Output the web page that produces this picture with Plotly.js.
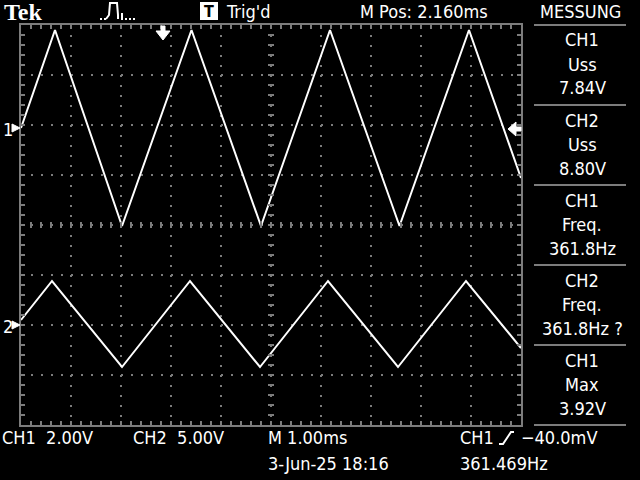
<!DOCTYPE html>
<html>
<head>
<meta charset="utf-8">
<script src="https://cdn.plot.ly/plotly-3.0.1.min.js"></script>
<style>html,body{margin:0;padding:0;background:#000;}#chart{width:640px;height:480px;}</style>
</head>
<body>
<div id="chart"></div>
<script>
// ---- data (time in ms, voltage in V) ----
const ch1Time = [0, 0.68, 2.02, 3.41, 4.80, 6.18, 7.57, 8.96, 10.0];
const ch1Volt = [0.0, 3.92, -3.92, 3.92, -3.92, 3.92, -3.92, 3.92, -2.0];
const ch2Time = [0, 0.62, 2.02, 3.38, 4.78, 6.14, 7.54, 8.90, 10.0];
const ch2Volt = [0.5, 4.4, -4.2, 4.4, -4.2, 4.4, -4.2, 4.4, -2.3];
const ch1VoltsPerDiv = 2.0;
const ch2VoltsPerDiv = 5.0;
const ch1GroundDiv = 1.94;
const ch2GroundDiv = -2.0;

const measChannel = ['CH1', 'CH2', 'CH1', 'CH2', 'CH1'];
const measType = ['Uss', 'Uss', 'Freq.', 'Freq.', 'Max'];
const measValue = ['7.84V', '8.80V', '361.8Hz', '361.8Hz ?', '3.92V'];

const headerBrand = 'Tek';
const headerTrig = "Trig'd";
const headerPos = 'M Pos: 2.160ms';
const headerMenu = 'MESSUNG';
const footerCh1 = 'CH1  2.00V';
const footerCh2 = 'CH2  5.00V';
const footerTime = 'M 1.00ms';
const footerDate = '3-Jun-25 18:16';
const footerTrigSrc = 'CH1';
const footerTrigLevel = '\u221240.0mV';
const footerFreq = '361.469Hz';

// ---- layout helpers ----
const L = 21, R = 521, T = 25, B = 425;
const fx = x => (x - L) / (R - L);
const fy = y => (B - y) / (B - T);
const GRAY = '#7c7c7c';
const FONT = 'DejaVu Sans Condensed, Liberation Sans Narrow, Arial Narrow, sans-serif';

function pxPath(pts, close) {
  let s = '';
  pts.forEach((p, i) => { s += (i === 0 ? 'M' : 'L') + fx(p[0]).toFixed(5) + ',' + fy(p[1]).toFixed(5) + ' '; });
  if (close) s += 'Z';
  return s;
}

const toDiv = (arr, vpd, off) => arr.map(v => v / vpd + off);

const traces = [
  {x: ch1Time, y: toDiv(ch1Volt, ch1VoltsPerDiv, ch1GroundDiv), mode: 'lines',
   line: {color: '#ffffff', width: 2}, hoverinfo: 'skip', cliponaxis: true},
  {x: ch2Time, y: toDiv(ch2Volt, ch2VoltsPerDiv, ch2GroundDiv), mode: 'lines',
   line: {color: '#ffffff', width: 2}, hoverinfo: 'skip', cliponaxis: true}
];

const shapes = [];
// center crosshair ticks
for (let i = 1; i < 50; i++) {
  const x = i * 0.2;
  shapes.push({type: 'line', xref: 'x', yref: 'y', x0: x, x1: x, y0: -0.06, y1: 0.06,
               line: {color: GRAY, width: 2}});
}
for (let i = 1; i < 40; i++) {
  const y = -4 + i * 0.2;
  shapes.push({type: 'line', xref: 'x', yref: 'y', x0: 4.94, x1: 5.06, y0: y, y1: y,
               line: {color: GRAY, width: 2}});
}
// right panel separators
[25, 105, 185, 265, 345, 425].forEach(y => {
  shapes.push({type: 'line', xref: 'paper', yref: 'paper', x0: fx(534), x1: fx(626), y0: fy(y), y1: fy(y),
               line: {color: GRAY, width: 2}});
});
// trigger position arrow (top)
shapes.push({type: 'path', xref: 'paper', yref: 'paper',
  path: pxPath([[161, 26], [165, 26], [165, 31], [170, 31], [163, 40], [156, 31], [161, 31]], true),
  fillcolor: '#ffffff', line: {color: '#ffffff', width: 1}});
// trigger level arrow (right)
shapes.push({type: 'path', xref: 'paper', yref: 'paper',
  path: pxPath([[508, 129], [516, 122], [516, 127], [521, 127], [521, 131], [516, 131], [516, 136]], true),
  fillcolor: '#ffffff', line: {color: '#ffffff', width: 1}});
// channel ground markers
[128, 325].forEach(y => {
  shapes.push({type: 'path', xref: 'paper', yref: 'paper',
    path: pxPath([[12, y - 4], [20, y], [12, y + 4]], true),
    fillcolor: '#ffffff', line: {color: '#ffffff', width: 1}});
});
// T box
shapes.push({type: 'rect', xref: 'paper', yref: 'paper', x0: fx(200), x1: fx(218), y0: fy(2), y1: fy(20),
             fillcolor: '#ffffff', line: {width: 0}});
// acquisition pulse icon
shapes.push({type: 'path', xref: 'paper', yref: 'paper',
  path: pxPath([[106, 19], [109, 15], [110, 3], [117, 3], [118, 15], [118, 19]], false),
  line: {color: '#ffffff', width: 2}});
shapes.push({type: 'path', xref: 'paper', yref: 'paper',
  path: pxPath([[100, 19], [106, 19]], false), line: {color: '#ffffff', width: 2, dash: '2px,2px'}});
shapes.push({type: 'path', xref: 'paper', yref: 'paper',
  path: pxPath([[121, 19], [136, 19]], false), line: {color: '#ffffff', width: 2, dash: '2px,2px'}});
shapes.push({type: 'path', xref: 'paper', yref: 'paper',
  path: pxPath([[122, 13], [122, 19]], false), line: {color: '#ffffff', width: 2}});
// trigger slope symbol
shapes.push({type: 'path', xref: 'paper', yref: 'paper',
  path: pxPath([[499, 444], [503, 444], [511, 432], [514, 432]], false),
  line: {color: '#ffffff', width: 2}});

const ann = [];
function txt(text, x, y, anchor, size, family, color) {
  ann.push({text: text, xref: 'paper', yref: 'paper', x: fx(x), y: fy(y), xanchor: anchor || 'left',
            yanchor: 'middle', showarrow: false, borderpad: 0,
            font: {family: family || FONT, size: size || 18, color: color || '#ffffff'}});
}
txt('<b>' + headerBrand + '</b>', 3, 12, 'left', 24, 'Liberation Serif, DejaVu Serif, serif');
txt('<b>T</b>', 209, 11, 'center', 16, FONT, '#000000');
txt(headerTrig, 225, 11);
txt(headerPos, 359, 11);
txt(headerMenu, 539, 11);
txt('1', 2, 129);
txt('2', 2, 326);
for (let i = 0; i < measChannel.length; i++) {
  const y0 = 40 + i * 80;
  txt(measChannel[i], 582, y0, 'center');
  txt(measType[i], 582, y0 + 24, 'center');
  txt(measValue[i], 582, y0 + 48, 'center');
}
txt(footerCh1, 1, 437);
txt(footerCh2, 132, 437);
txt(footerTime, 267, 437);
txt(footerTrigSrc, 459, 437);
txt(footerTrigLevel, 520, 437);
txt(footerDate, 267, 463);
txt(footerFreq, 459, 463);

const axisCommon = {
  showgrid: true, gridcolor: GRAY, gridwidth: 2, griddash: '2px,8px',
  zeroline: false, showline: true, linecolor: GRAY, linewidth: 2, mirror: 'allticks',
  ticks: 'inside', ticklen: 4, tickwidth: 2, tickcolor: GRAY, showticklabels: false,
  minor: {dtick: 0.2, ticks: 'inside', ticklen: 4, tickwidth: 2, tickcolor: GRAY, showgrid: false},
  fixedrange: true
};

const layout = {
  width: 640, height: 480, autosize: false,
  margin: {l: 21, r: 119, t: 25, b: 55, pad: 0},
  paper_bgcolor: '#000000', plot_bgcolor: '#000000',
  showlegend: false,
  xaxis: Object.assign({}, axisCommon, {range: [0, 10], dtick: 1, tick0: 0}),
  yaxis: Object.assign({}, axisCommon, {range: [-4, 4], dtick: 1, tick0: 0}),
  shapes: shapes,
  annotations: ann
};

Plotly.newPlot('chart', traces, layout, {displayModeBar: false, staticPlot: true});
</script>
</body>
</html>
